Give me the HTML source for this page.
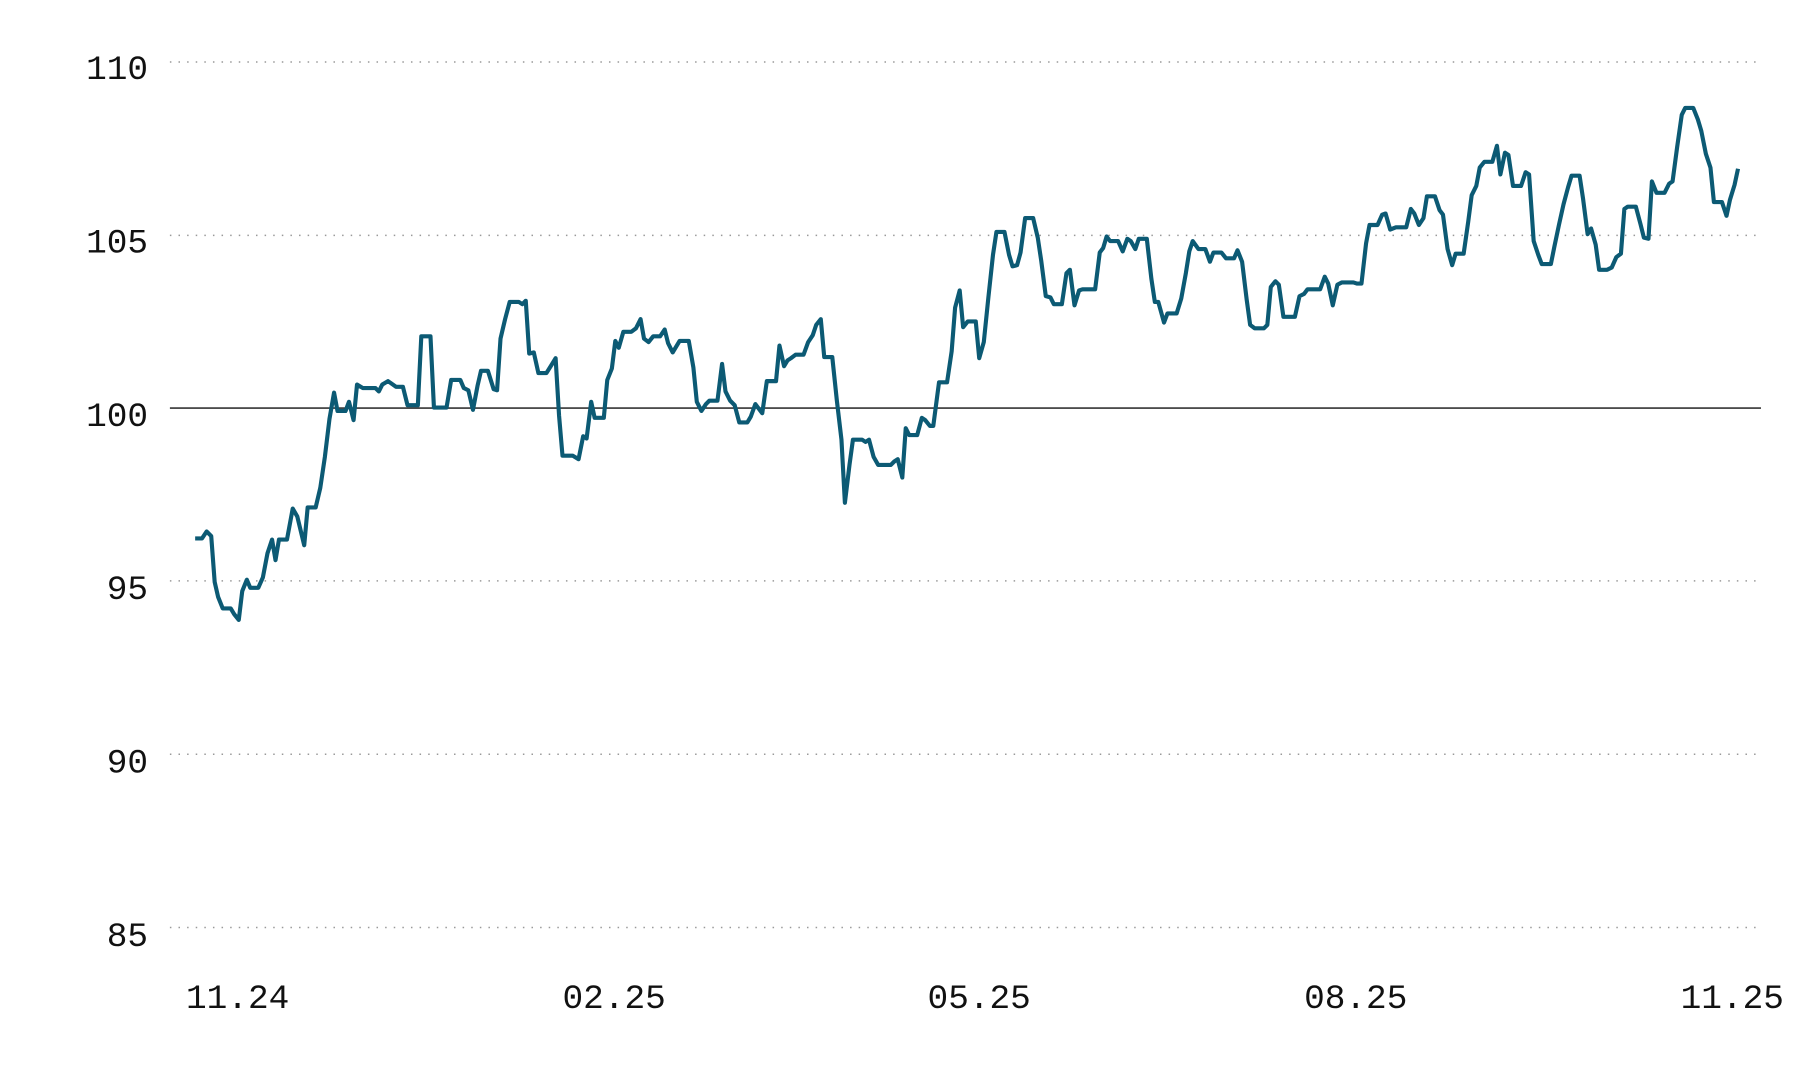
<!DOCTYPE html>
<html><head><meta charset="utf-8"><style>
html,body{margin:0;padding:0;background:#fff;width:1800px;height:1080px;overflow:hidden}
svg{display:block}
text{font-family:"Liberation Mono",monospace;font-size:30px;fill:#111}
</style></head><body>
<svg width="1800" height="1080" viewBox="0 0 1568 940.8" preserveAspectRatio="none">
<g stroke="#999" stroke-width="1.3" stroke-dasharray="1.3 6.2">
<line x1="148" y1="54" x2="1534" y2="54"/>
<line x1="148" y1="205" x2="1534" y2="205"/>
<line x1="148" y1="506" x2="1534" y2="506"/>
<line x1="148" y1="657" x2="1534" y2="657"/>
<line x1="148" y1="808" x2="1534" y2="808"/>
</g>
<line x1="148" y1="355.5" x2="1534" y2="355.5" stroke="#111" stroke-width="1.2"/>
<g text-anchor="end" style="font-size:31px">
<text x="129" y="69">110</text>
<text x="129" y="220">105</text>
<text x="129" y="371">100</text>
<text x="129" y="522">95</text>
<text x="129" y="673">90</text>
<text x="129" y="824">85</text>
</g>
<g text-anchor="middle">
<text x="207" y="878">11.24</text>
<text x="535" y="878">02.25</text>
<text x="853" y="878">05.25</text>
<text x="1181" y="878">08.25</text>
<text x="1509" y="878">11.25</text>
</g>
<polyline fill="none" stroke="#0c5a74" stroke-width="3.6" stroke-linejoin="round" points="170,469 176,469 180,463 184,467 187,507 190,520 194,530 201,530 204,535 208,540 211,515 215,505 218,512 225,512 229,503 233,482 237,470 240,488 243,470 250,470 255,443 259,450 265,475 268,442 275,442 279,425 283,398 287,365 291,342 294,358 301,358 304,350 308,366 311,335 316,338 327,338 330,341 333,335 338,332 345,337 351,337 355,353 364,353 367,293 375,293 378,355 389,355 393,331 401,331 404,338 408,340 412,357 416,336 419,323 425,323 430,339 433,340 436,295 440,278 444,263 452,263 455,265 458,262 461,308 465,307 469,325 476,325 481,317 484,312 487,362 490,397 499,397 504,400 508,380 511,382 515,350 518,364 526,364 529,331 533,321 536,297 539,303 543,289 550,289 554,286 558,278 561,295 565,298 569,293 575,293 579,287 582,299 586,307 592,297 600,297 604,320 607,350 611,358 615,352 618,349 625,349 629,317 632,341 636,349 640,353 644,368 651,368 654,363 658,352 664,360 668,332 676,332 679,301 683,319 686,314 689,312 693,309 700,309 704,298 708,292 711,283 715,278 718,311 725,311 729,349 733,383 736,438 740,405 743,383 751,383 754,385 757,383 761,398 765,405 776,405 779,402 782,400 786,416 789,373 792,379 799,379 803,364 806,366 810,371 813,371 818,333 825,333 829,306 832,268 836,253 839,285 843,280 850,280 853,312 857,298 861,259 865,222 868,202 875,202 879,222 882,232 886,231 889,220 893,190 900,190 904,207 907,227 911,258 915,259 918,265 925,265 929,238 932,235 936,266 940,253 943,252 954,252 958,220 961,216 964,206 967,210 974,210 978,219 982,208 985,210 989,217 992,208 999,208 1003,243 1006,263 1009,263 1014,281 1017,273 1025,273 1029,260 1033,238 1036,219 1039,210 1044,217 1050,217 1054,228 1057,220 1064,220 1068,225 1075,225 1078,218 1082,228 1086,261 1089,283 1093,286 1101,286 1104,283 1107,250 1111,245 1114,248 1118,276 1128,276 1132,258 1136,256 1139,252 1150,252 1154,241 1157,247 1161,266 1165,248 1169,246 1179,246 1182,247 1186,247 1190,212 1193,196 1200,196 1204,187 1207,186 1211,200 1216,198 1225,198 1229,182 1232,186 1236,196 1240,190 1243,171 1250,171 1254,183 1257,187 1261,217 1265,231 1268,221 1275,221 1279,193 1282,170 1286,162 1289,146 1293,141 1300,141 1304,127 1307,152 1311,133 1314,135 1318,162 1325,162 1329,150 1332,152 1336,210 1340,222 1343,230 1351,230 1354,215 1358,196 1362,178 1366,163 1369,153 1376,153 1379,173 1383,204 1386,199 1390,213 1393,235 1400,235 1404,233 1408,224 1412,221 1415,182 1418,180 1425,180 1429,195 1432,207 1436,208 1439,158 1443,168 1450,168 1454,160 1457,158 1461,128 1465,100 1468,94 1475,94 1479,104 1482,114 1486,134 1490,146 1493,176 1500,176 1504,188 1507,174 1511,161 1514,147"/>
</svg>
</body></html>
